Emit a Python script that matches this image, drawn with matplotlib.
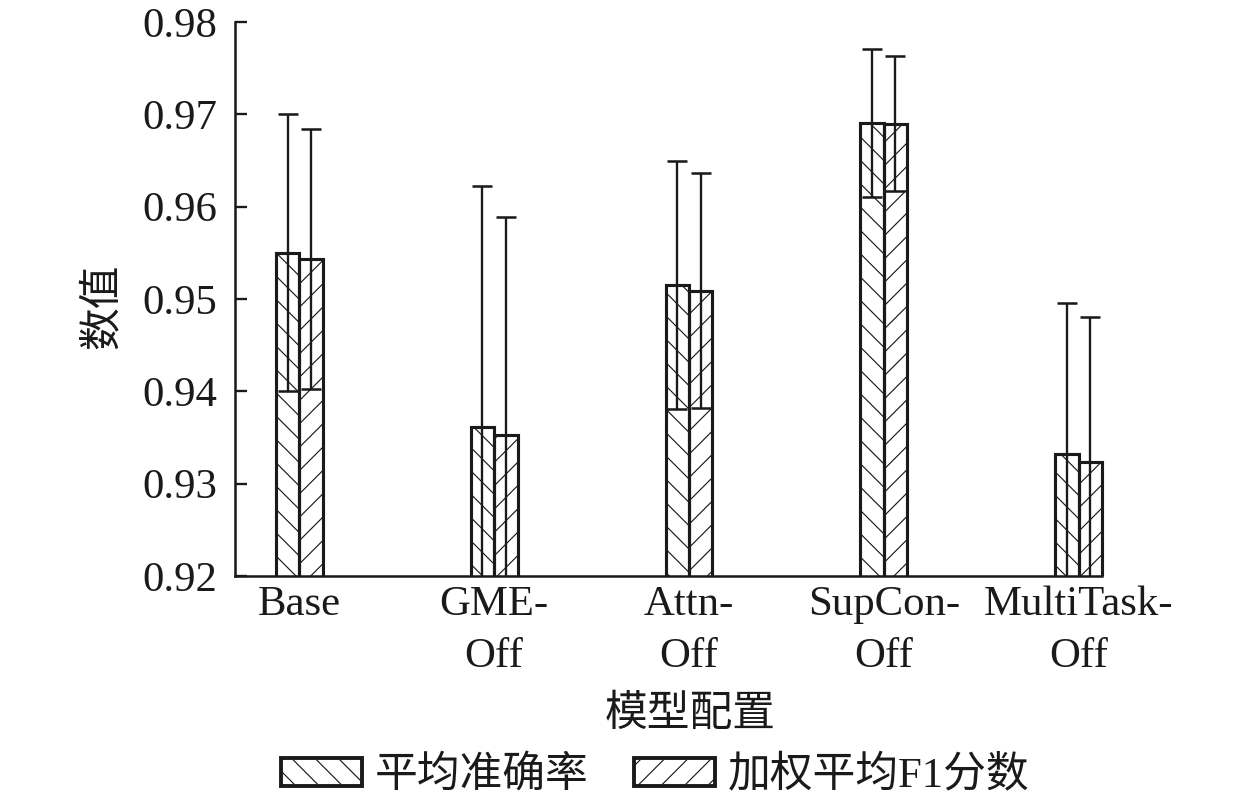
import matplotlib
matplotlib.use("Agg")
import matplotlib.pyplot as plt
import numpy as np
from matplotlib.patches import Patch
from matplotlib.transforms import Bbox, TransformedBbox

categories = ["Base", "GME-\nOff", "Attn-\nOff", "SupCon-\nOff", "MultiTask-\nOff"]
acc = [0.9550, 0.9361, 0.9515, 0.9691, 0.9332]
f1 = [0.9543, 0.9353, 0.9509, 0.9690, 0.9324]
acc_err = [0.0150, 0.0261, 0.0134, 0.0080, 0.0164]
f1_err = [0.0141, 0.0236, 0.0127, 0.0073, 0.0157]
series_names = ["平均准确率", "加权平均F1分数"]
yticks = [0.92, 0.93, 0.94, 0.95, 0.96, 0.97, 0.98]

FAM = ["Liberation Serif", "Noto Sans CJK SC", "DejaVu Sans"]
plt.rcParams["font.family"] = FAM
plt.rcParams["hatch.linewidth"] = 0.6
plt.rcParams["hatch.color"] = "#1a1a1a"

fig = plt.figure(figsize=(9, 5.75), dpi=140)
ax = fig.add_axes([235/1260, 1-576/805, (1102-235)/1260, (576-22)/805])

x = np.arange(len(categories))
w = 0.12
ec = "#1a1a1a"
b1 = ax.bar(x - w/2, acc, w, fill=False, hatch="\\\\", edgecolor=ec, linewidth=1.6, zorder=2)
b2 = ax.bar(x + w/2, f1, w, fill=False, hatch="//", edgecolor=ec, linewidth=1.6, zorder=2)
clip = TransformedBbox(Bbox([[-0.02, 0.0], [1.02, 1.0]]), ax.transAxes)
for p in list(b1) + list(b2):
    p.set_clip_box(clip)
ax.errorbar(x - w/2, acc, yerr=acc_err, fmt="none", ecolor=ec, elinewidth=1.2,
            capsize=5, capthick=1.3, zorder=3)
ax.errorbar(x + w/2, f1, yerr=f1_err, fmt="none", ecolor=ec, elinewidth=1.2,
            capsize=5, capthick=1.3, zorder=3)

ax.set_ylim(0.92, 0.98)
ax.set_xlim(-0.33, 4.12)
ax.set_yticks(yticks)
ax.set_yticklabels([f"{v:.2f}" for v in yticks])
ax.set_xticks(x)
ax.set_xticklabels(categories)
ax.tick_params(axis="y", direction="in", length=6, width=1.2, pad=9, labelsize=22, colors=ec)
ax.tick_params(axis="x", length=0, pad=5, labelsize=22, colors=ec)
for lab in ax.get_xticklabels():
    lab.set_linespacing(1.45)
for s in ["top", "right"]:
    ax.spines[s].set_visible(False)
for s in ["left", "bottom"]:
    ax.spines[s].set_linewidth(1.3)
    ax.spines[s].set_color(ec)

fig.text(103/1260, 1-306/805, "数值", rotation=90, ha="center", va="center",
         fontsize=22, family=FAM, color=ec)
fig.text(690/1260, 1-715/805, "模型配置", ha="center", va="center",
         fontsize=22, family=FAM, color=ec)

handles = [Patch(facecolor="white", edgecolor=ec, hatch="\\\\", linewidth=2.0),
           Patch(facecolor="white", edgecolor=ec, hatch="//", linewidth=2.0)]
fig.legend(handles, series_names, loc="center", bbox_to_anchor=(655/1260, 1-776/805),
           ncol=2, frameon=False, prop={"family": FAM, "size": 22},
           handlelength=1.9, handleheight=0.65, handletextpad=0.3, columnspacing=1.05,
           labelcolor=ec)

fig.savefig("out.png", dpi=140)
